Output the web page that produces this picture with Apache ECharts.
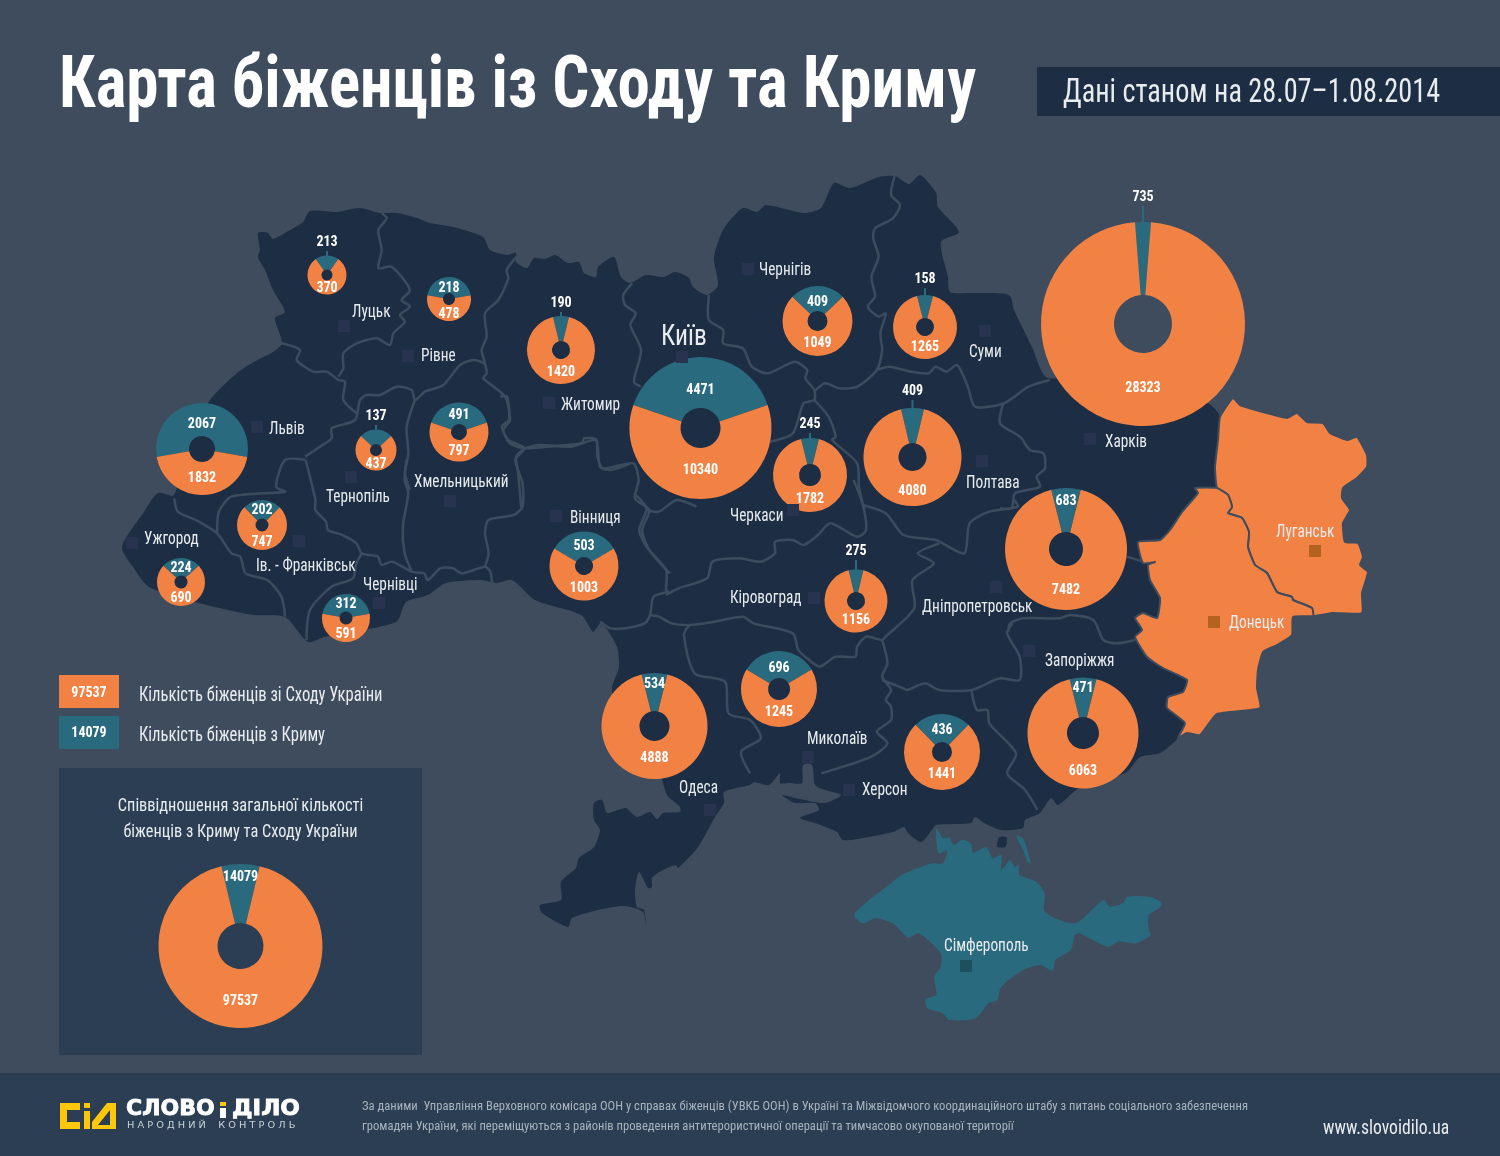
<!DOCTYPE html>
<html><head><meta charset="utf-8">
<style>html,body{margin:0;padding:0;background:#3e4c5e}#c{width:1500px;height:1156px}</style>
<script src="https://cdn.jsdelivr.net/npm/echarts@6/dist/echarts.min.js"></script>
</head><body><div id="c"></div>
<script>
/* ---------- DATA ---------- */
const regions    = ['Луцьк','Рівне','Житомир','Київ','Чернігів','Суми','Харків','Львів','Тернопіль','Хмельницький','Вінниця','Черкаси','Полтава','Дніпропетровськ','Ужгород','Ів. - Франківськ','Чернівці','Кіровоград','Одеса','Миколаїв','Херсон','Запоріжжя'];
const crimeaCounts = [213,218,190,4471,409,158,735,2067,137,491,503,245,409,683,224,202,312,275,534,696,436,471];
const eastCounts   = [370,478,1420,10340,1049,1265,28323,1832,437,797,1003,1782,4080,7482,690,747,591,1156,4888,1245,1441,6063];
/* Angle of the teal wedge as measured in the picture: the reference does not draw it strictly in proportion to the printed counts. */
const tealWedgeDegrees = [70,160,27,142,92,29,9,200,94,142,119,28,27,28,95,90,160,27,28,118,88,28];
const totalEast = 97537, totalCrimea = 14079, totalWedgeDegrees = 27;
const otherCities = ['Луганськ','Донецьк','Сімферополь'];

/* ---------- LAYOUT ---------- */
const pieCenter = [[327,275],[449,299],[561,350],[700.5,428],[817.5,321],[925,327],[1143,324],[202,449],[376,450],[459,432],[584,566],[810,475],[912.5,457],[1066,549],[181,582],[262,525],[346,618],[856,601],[654.5,726],[779,689],[942,752],[1083,733]];
const pieRadius = [19.5,22,34,71,35,32,102,46,20.5,29.5,34.5,37,49,61,24,25,24,31.5,53,38,38,55.5];
const holeRadius= [5.5,6,9,20,10,9,29,13,6,8,9,11,14,17,6.5,6.5,6.5,9,15,11,10,16];
const tealLabelY  = [242,288,303,390,302,279,197,424,416,415,546,424,391,501,568,510,604,551,684,668,730,688];
const eastLabelY  = [288,314,372,470,343,347,388,478,464,451,588,499,491,590,598,542,634,620,758,712,774,771];
const leaderPies  = [0,2,5,6,8,11,12,17];
const cityText = {'Луцьк':[352,312],'Рівне':[421,356],'Житомир':[561,405],'Чернігів':[759,270],'Суми':[969,352],'Харків':[1105,442],'Львів':[269,429],'Тернопіль':[326,497],'Хмельницький':[414,482],'Вінниця':[570,518],'Черкаси':[730,516],'Полтава':[966,483],'Дніпропетровськ':[922,607],'Ужгород':[144,539],'Ів. - Франківськ':[256,566],'Чернівці':[363,585],'Кіровоград':[730,598],'Одеса':[679,788],'Миколаїв':[807,739],'Херсон':[862,790],'Запоріжжя':[1045,661],'Луганськ':[1276,532],'Донецьк':[1229,623],'Сімферополь':[944,946]};
const citySquare = {'Луцьк':[344,326],'Рівне':[408,356],'Житомир':[549,403],'Київ':[682,357],'Чернігів':[748,269],'Суми':[985,331],'Харків':[1090,439],'Львів':[257,427],'Тернопіль':[351,477],'Хмельницький':[450,501],'Вінниця':[556,516],'Черкаси':[793,510],'Полтава':[982,461],'Дніпропетровськ':[996,587],'Ужгород':[132,543],'Ів. - Франківськ':[299,541],'Чернівці':[379,603],'Кіровоград':[814,598],'Одеса':[710,810],'Миколаїв':[808,757],'Херсон':[849,790],'Запоріжжя':[1029,651],'Луганськ':[1315,551],'Донецьк':[1214,622],'Сімферополь':[966,966]};

const ukraineOutline = [[258,233],[268,233],[273,239],[290,230],[303,222],[310,211],[337,212],[360,208],[380,213],[397,213],[417,218],[430,223],[453,227],[483,237],[490,250],[507,255],[516,253],[516,262],[527,268],[534,258],[545,259],[555,255],[568,263],[579,262],[584,273],[596,277],[598,267],[614,257],[621,277],[630,283],[646,275],[664,277],[675,272],[689,278],[693,287],[707,295],[718,285],[714,258],[723,230],[743,208],[757,212],[766,205],[804,213],[821,208],[834,183],[850,188],[879,177],[895,176],[909,184],[920,175],[936,193],[938,207],[959,232],[941,242],[948,277],[950,292],[971,293],[1009,295],[1014,310],[1032,347],[1046,377],[1075,378],[1207,403],[1220,417],[1225,500],[1215,600],[1200,700],[1178,738],[1160,753],[1140,757],[1127,772],[1105,780],[1079,788],[1058,805],[1051,798],[1040,813],[1025,820],[1023,828],[1001,830],[984,823],[975,817],[971,823],[936,825],[932,830],[921,842],[908,833],[904,827],[893,832],[863,838],[843,840],[837,832],[815,823],[800,818],[819,810],[815,803],[795,803],[782,795],[800,799],[825,803],[841,795],[825,790],[815,785],[812,765],[803,765],[802,783],[790,783],[780,783],[780,773],[769,785],[754,782],[750,785],[724,792],[724,803],[715,817],[698,847],[678,868],[676,865],[663,870],[652,878],[652,887],[648,888],[639,872],[635,890],[637,907],[644,910],[646,927],[643,912],[624,906],[598,910],[572,918],[568,927],[542,913],[540,905],[561,900],[561,882],[576,868],[579,858],[594,847],[600,830],[594,820],[594,803],[602,800],[607,813],[618,810],[626,808],[637,817],[650,812],[657,819],[663,813],[680,812],[680,807],[667,795],[660,775],[630,745],[612,690],[619,667],[617,647],[603,625],[594,633],[581,615],[535,600],[512,580],[496,583],[481,580],[446,583],[428,595],[406,602],[396,622],[324,637],[308,642],[285,617],[253,615],[228,610],[199,603],[149,587],[133,567],[122,547],[144,512],[158,493],[174,495],[190,440],[210,400],[237,373],[252,363],[273,352],[282,343],[275,318],[285,312],[273,290],[265,270],[258,257],[260,250]];
const luhanskOutline = [[1220,417],[1233,398],[1240,405],[1263,412],[1287,418],[1297,413],[1307,422],[1323,423],[1330,433],[1347,440],[1357,437],[1367,455],[1367,467],[1357,478],[1343,488],[1342,498],[1350,510],[1343,523],[1345,542],[1358,543],[1363,557],[1360,565],[1368,572],[1362,593],[1362,613],[1333,613],[1313,616],[1312,608],[1293,600],[1292,597],[1277,592],[1267,573],[1255,565],[1248,547],[1249,532],[1242,518],[1228,513],[1232,507],[1228,495],[1217,488],[1215,467],[1218,440]];
const donetskOutline = [[1195,488],[1217,488],[1228,495],[1232,507],[1228,513],[1242,518],[1249,532],[1248,547],[1255,565],[1267,573],[1277,592],[1292,597],[1293,600],[1312,608],[1313,616],[1293,617],[1292,635],[1277,645],[1263,652],[1258,670],[1257,688],[1260,708],[1217,714],[1200,735],[1187,733],[1178,738],[1185,723],[1167,708],[1168,697],[1183,692],[1187,680],[1163,668],[1147,657],[1135,637],[1142,630],[1135,618],[1143,613],[1157,618],[1160,598],[1150,580],[1148,565],[1155,562],[1143,563],[1138,542],[1160,540],[1170,530],[1182,512],[1198,493]];

const T = {a:[110,190,3,3], b:[110,440,2.8,3], c:[500,170,2.8,3], d:[600,480,2.8,3], e:[1000,380,3,3], f:[520,760,2.306,3]};
const crimeaCrop = [960,205,975,235,990,232,1000,255,1020,240,1040,250,1045,278,1075,262,1090,295,1110,285,1110,330,1130,300,1140,320,1150,315,1152,345,1190,365,1210,400,1210,455,1280,490,1345,420,1360,440,1390,430,1400,410,1450,410,1478,425,1478,440,1450,465,1450,510,1455,525,1420,550,1380,545,1355,560,1290,520,1280,525,1270,570,1235,600,1228,632,1200,615,1160,630,1110,680,1100,720,1080,730,1050,775,990,780,975,760,940,745,935,718,960,705,955,650,970,620,970,580,920,520,895,533,860,490,820,475,790,490,770,465,800,425,850,375,880,345,950,310,975,310,985,270,965,280];
const arabatCrop = [1145,228,1160,235,1178,310,1170,305,1160,270];
const chonharCrop = [1100,260,1105,232,1122,232,1120,260];
const borderLines = [
 ['a',[815,70,830,85,805,120,815,180,805,235,845,230,900,300,875,330,900,350,870,375,885,395,850,430,840,465,800,445,740,460,700,490,700,535,685,560]],
 ['a',[515,460,570,480,560,510,610,545,650,545,685,570,705,575,700,630,740,670]],
 ['a',[585,800,630,770,665,745,665,715,735,690,750,630,770,615,810,615,860,590,905,600,915,630,945,605,1000,585,1050,525,1090,510,1125,520]],
 ['a',[1220,200,1190,240,1195,265,1165,330,1125,370,1130,440,1115,480,1125,520,1130,550,1120,565,1185,620,1200,690,1180,720,1200,760,1240,775]],
 ['a',[915,630,890,710,895,790,885,850,900,900]],
 ['b',[830,60,825,120,835,160,820,260,825,340,845,395]],
 ['b',[548,60,575,180,575,210,605,245,610,270,650,285,690,310,705,340,750,350,760,375,790,365,845,395,880,400,890,420,925,385,960,385,985,400,1050,380,1065,395,1070,430]],
 ['b',[548,60,490,60,465,140,490,155,340,170,305,215,300,280]],
 ['b',[180,175,190,215,240,240,300,280,340,340,365,350,380,400,440,420,480,470,490,530]],
 ['b',[705,340,690,370,680,415,620,440,560,510,550,600]],
 ['b',[1110,0,1160,25,1135,60,1155,130,1155,200,1130,225,1060,240,1050,280,1060,340,1050,380]],
 ['b',[1160,25,1200,15,1290,20,1360,0,1365,50,1380,85,1465,70,1480,120,1470,175,1510,210,1490,270,1510,330,1568,400]],
 ['c',[370,340,345,375,350,405,380,430,365,465,395,540,375,635,395,650]],
 ['c',[0,680,20,680,25,750,5,770,30,820,70,835,130,830,230,820,235,805,270,810,280,890,310,900,365,880]],
 ['c',[70,835,45,860,50,900,60,1020]],
 ['d',[95,40,130,85,110,150,130,200,185,270,185,330,190,335,150,350,140,405,125,430,70,445,30,445,0,425]],
 ['d',[130,90,165,95,215,60,270,80]],
 ['b',[1380,545,1355,580]],
 ['c',[585,375,585,450,625,480,625,520,680,535,705,590,750,610,825,575,860,600,855,625,880,660,880,690,850,700,820,790,755,815]],
 ['c',[880,690,920,740,940,800,930,810,1000,880,1005,950,1020,1020]],
 ['d',[710,0,735,70,745,150,720,170,645,130,610,165,570,195,540,180,490,185,490,220,450,245,390,235,315,245,300,295,220,325,185,345]],
 ['c',[1105,18,1095,75,1120,105,1100,145,1050,175,1045,205,1060,260,1040,320,1050,380,1030,410,1060,440,1080,430,1065,490,1070,540,1055,600,1000,650,950,655,910,640,880,665]],
 ['c',[1055,600,1090,590,1150,605,1200,610,1220,590,1250,605,1280,585,1310,650,1330,710,1410,700,1480,650,1540,630]],
 ['e',[10,70,0,130,60,170,90,210,130,220,135,265,110,290,120,320,45,340,35,385,0,385]],
 ['d',[735,75,800,100,850,165,940,180,1020,220,1035,130,1090,95,1170,80,1160,60]],
 ['d',[950,190,890,220,935,250,875,300,880,385,800,470,790,480,745,470,720,500,715,530,660,530,615,560,580,535,555,510,540,460,430,430,400,410,320,425,250,435,200,430,165,410,140,405]],
 ['d',[250,435,235,465,265,580,350,605,360,700,420,720,450,775,395,815,420,880]],
 ['d',[790,480,805,550,790,590,815,630,800,660,815,680,815,720,775,755,805,790,760,830,620,880]],
 ['d',[790,600,850,625,860,630,910,610,950,630,1040,630,1120,595,1175,600,1175,530,1140,460,1155,430]],
 ['e',[25,755,30,730,70,715,180,715,210,705,280,720,310,780,350,790,405,780]],
 ['d',[1040,630,1055,690,1085,690,1090,730,1165,820,1140,880,1190,930,1225,990]],
 ['e',[380,530,430,545]]
];
const title = 'Карта біженців із Сходу та Криму';
const dateNote = 'Дані станом на 28.07–1.08.2014';
const legendLabels = ['Кількість біженців зі Сходу України','Кількість біженців з Криму'];
const panelTitle = ['Співвідношення загальної кількості','біженців з Криму та Сходу України'];
const sourceLines = ['За даними  Управління Верховного комісара ООН у справах біженців (УВКБ ООН) в Україні та Міжвідомчого координаційного штабу з питань соціального забезпечення','громадян України, які переміщуються з районів проведення антитерористичної операції та тимчасово окупованої території'];

/* ---------- STYLE ---------- */
const BG='#3e4c5e', DARK='#1d2e44', ORANGE='#f28244', TEAL='#2a6a7e', PANEL='#2b3e53', SQUARE='#27334f', BORDER='#3c4c5f';
const NARROW='"Liberation Sans Narrow","Roboto Condensed",sans-serif';

const conv=(k,flat)=>{const t=T[k],o=[];for(let i=0;i<flat.length;i+=2)o.push([t[0]+flat[i]/t[2],t[1]+flat[i+1]/t[3]]);return o;};
const txt=(s,x,y,size,color,extra={})=>({type:'text',z:20,x,y,scaleX:extra.sx||1,silent:true,style:{text:s,x:0,y:0,fill:color,font:`${extra.weight||'normal'} ${size}px ${NARROW}`,textAlign:extra.align||'left',textVerticalAlign:'middle'}});
const rect=(x,y,w,h,fill,z=1)=>({type:'rect',z,silent:true,shape:{x,y,width:w,height:h},style:{fill}});
const poly=(points,fill,extra={})=>({type:'polygon',z:extra.z||1,silent:true,shape:{points,smooth:extra.smooth===undefined?0.25:extra.smooth},style:{fill,stroke:extra.stroke||null,lineWidth:extra.lw||0}});

const g=[];
g.push(rect(1037,67,463,49,DARK));
g.push(rect(0,1073,1500,83,PANEL));
g.push(rect(59,768,363,287,PANEL));
g.push(rect(59,675,60,33,ORANGE));
g.push(rect(59,716,60,33,TEAL));
g.push(poly(ukraineOutline,DARK));
borderLines.forEach(([k,f])=>g.push({type:'polyline',z:2,silent:true,shape:{points:conv(k,f),smooth:0.25},style:{fill:null,stroke:BORDER,lineWidth:2.5}}));
g.push(poly(luhanskOutline,ORANGE,{z:3,stroke:BG,lw:2,smooth:0.15}));
g.push(poly(donetskOutline,ORANGE,{z:3,stroke:BG,lw:2,smooth:0.15}));
g.push(poly(conv('f',crimeaCrop),TEAL));
g.push(poly(conv('f',arabatCrop),TEAL));
g.push(poly(conv('f',chonharCrop),DARK));
Object.keys(citySquare).forEach(n=>{const [x,y]=citySquare[n];
  const fill=otherCities.indexOf(n)<0?SQUARE:(n==='Сімферополь'?'#1c505e':'#b5621f');
  g.push(rect(x-6,y-6,12,12,fill,4));});
Object.keys(cityText).forEach(n=>{const [x,y]=cityText[n];g.push(txt(n,x,y,18,'#e8ecef',{sx:0.85}));});
g.push(txt('Київ',661,337,30,'#e8ecef',{sx:0.85}));
g.push(txt(title,59,88.5,72,'#ffffff',{weight:'bold',sx:0.903}));
g.push(txt(dateNote,1063,93,34,'#e8ecef',{sx:0.83}));
g.push(txt(String(totalEast),89,693,14,'#ffffff',{weight:'bold',align:'center'}));
g.push(txt(String(totalCrimea),89,733,14,'#ffffff',{weight:'bold',align:'center'}));
g.push(txt(legendLabels[0],139,696,20,'#e8ecef',{sx:0.83}));
g.push(txt(legendLabels[1],139,736,20,'#e8ecef',{sx:0.83}));
g.push(txt(panelTitle[0],240.5,806,19,'#e8ecef',{align:'center',sx:0.86}));
g.push(txt(panelTitle[1],240.5,832,19,'#e8ecef',{align:'center',sx:0.86}));
g.push(txt(sourceLines[0],362,1107,13.5,'#a9b3bd',{sx:0.935}));
g.push(txt(sourceLines[1],362,1127,13.5,'#a9b3bd',{sx:0.935}));
g.push(txt('www.slovoidilo.ua',1323,1129,20,'#e8ecef',{sx:0.88}));
/* logo */
const Y='#fdc70c';
g.push({type:'polyline',z:5,silent:true,shape:{points:[[80,1106.5],[63.5,1106.5],[63.5,1125.5],[80,1125.5]]},style:{fill:null,stroke:Y,lineWidth:7}});
g.push(rect(84,1103,6,5,Y,5)); g.push(rect(84,1111,6,18,Y,5));
g.push({type:'polygon',z:5,silent:true,shape:{points:[[92,1129],[92,1122],[107,1103],[116,1103],[116,1129]]},style:{fill:Y}});
g.push({type:'polygon',z:6,silent:true,shape:{points:[[98,1125],[110,1125],[110,1110]]},style:{fill:PANEL}});
const logoText=(s,x,sx)=>({type:'text',z:5,silent:true,x,y:1110,scaleX:sx,style:{text:s,x:0,y:0,fill:'#fff',stroke:'#fff',lineWidth:0.8,font:'bold 21px "DejaVu Sans"',textVerticalAlign:'middle'}});
g.push(logoText('СЛОВО',126,1.05));
g.push(rect(220,1102,6,4,Y,5)); g.push(rect(220,1108,6,10,'#ffffff',5));
g.push(logoText('ДІЛО',232,1.1));
g.push({type:'text',z:5,silent:true,x:127,y:1126,scaleX:1.22,style:{text:'Н А Р О Д Н И Й    К О Н Т Р О Л Ь',x:0,y:0,fill:'#c9d0d6',font:'8px "DejaVu Sans"',textVerticalAlign:'middle'}});

/* leader lines, derived from the same pie layout */
leaderPies.forEach(i=>{const x=pieCenter[i][0],top=pieCenter[i][1]-pieRadius[i];
  g.push({type:'line',z:10,silent:true,shape:{x1:x,y1:tealLabelY[i]+9,x2:x,y2:top+1},style:{stroke:TEAL,lineWidth:2}});});

function pieSeries(center,r,r0,wedge,tealText,eastText,tealY,eastY,fs){
  return {type:'pie',silent:true,animation:false,clockwise:true,center,radius:[r0,r],startAngle:90+wedge/2,
    itemStyle:{borderWidth:0},labelLine:{show:false},
    label:{show:true,position:'inside',color:'#fff',fontFamily:NARROW,fontWeight:'bold',fontSize:fs,formatter:p=>p.dataIndex===0?tealText:eastText},
    labelLayout:p=>({x:center[0],y:p.dataIndex===0?tealY:eastY,align:'center',verticalAlign:'middle'}),
    data:[{name:'Крим',value:wedge,itemStyle:{color:TEAL}},{name:'Схід',value:360-wedge,itemStyle:{color:ORANGE}}]};
}
const series=regions.map((n,i)=>pieSeries(pieCenter[i],pieRadius[i],holeRadius[i],tealWedgeDegrees[i],String(crimeaCounts[i]),String(eastCounts[i]),tealLabelY[i],eastLabelY[i],14));
series.push(pieSeries([240.5,946],82,23,totalWedgeDegrees,String(totalCrimea),String(totalEast),877,1001,14));

const chart=echarts.init(document.getElementById('c'),null,{renderer:'canvas',width:1500,height:1156});
chart.setOption({backgroundColor:BG,animation:false,graphic:{elements:g},series});
</script></body></html>
